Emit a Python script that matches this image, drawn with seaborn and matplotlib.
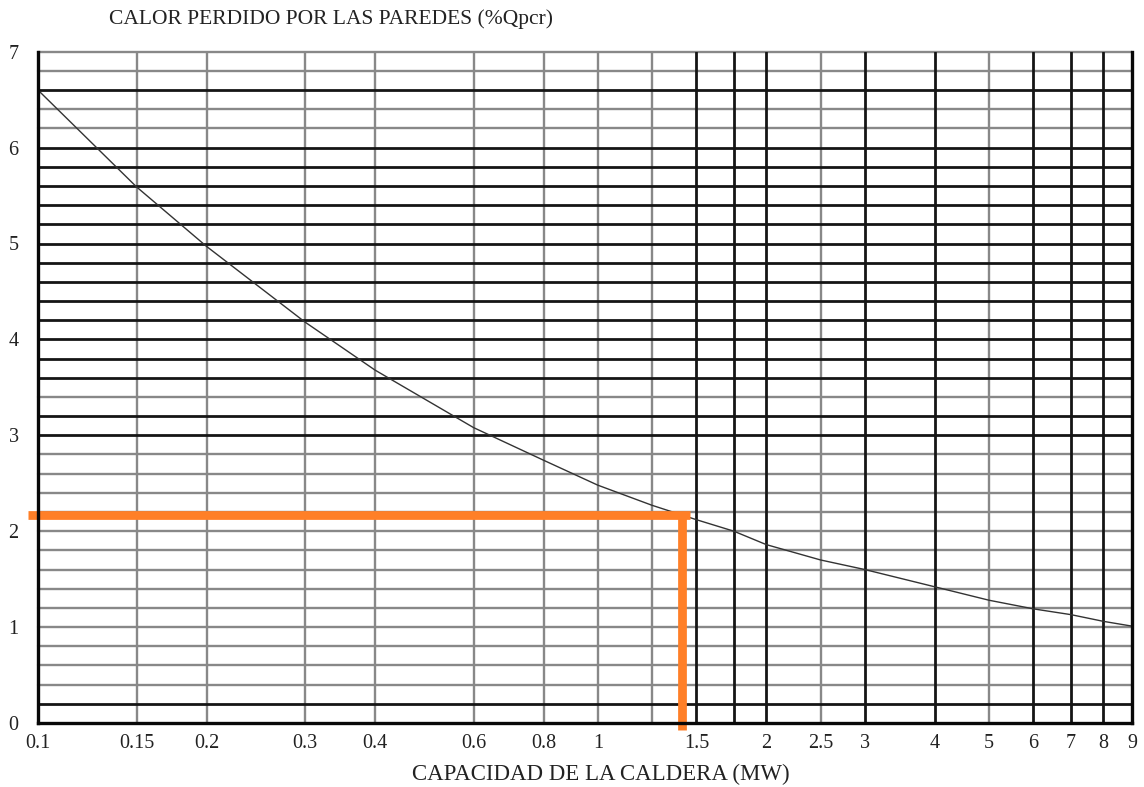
import matplotlib
matplotlib.use("Agg")
import matplotlib.pyplot as plt
import seaborn as sns
import pandas as pd

# ---- data ----
capacity = [0.1, 0.15, 0.2, 0.3, 0.4, 0.6, 0.8, 1.0, 1.25, 1.5, 1.75, 2.0,
            2.5, 3.0, 4.0, 5.0, 6.0, 7.0, 8.0, 9.0]
heat_loss = [6.6, 5.59, 4.97, 4.18, 3.68, 3.08, 2.74, 2.48, 2.27, 2.12, 2.0,
             1.86, 1.70, 1.60, 1.42, 1.28, 1.19, 1.13, 1.06, 1.01]

x_ticks = [0.1, 0.15, 0.2, 0.3, 0.4, 0.6, 0.8, 1, 1.5, 2, 2.5, 3, 4, 5, 6, 7, 8, 9]
x_tick_labels = ["0.1", "0.15", "0.2", "0.3", "0.4", "0.6", "0.8", "1", "1.5",
                 "2", "2.5", "3", "4", "5", "6", "7", "8", "9"]
y_ticks = [0, 1, 2, 3, 4, 5, 6, 7]

v_light = [0.15, 0.2, 0.3, 0.4, 0.6, 0.8, 1.0, 1.25, 2.5, 5.0]
v_dark = [1.5, 1.75, 2.0, 3.0, 4.0, 6.0, 7.0, 8.0]
h_dark = [0.2, 3.0, 3.2, 3.6, 3.8, 4.0, 4.2, 4.4, 4.6, 4.8, 5.0, 5.2, 5.4,
          5.6, 5.8, 6.0, 6.6]
h_light = [0.4, 0.6, 0.8, 1.0, 1.2, 1.4, 1.6, 1.8, 2.0, 2.2, 2.4, 2.6, 2.8,
           3.4, 6.2, 6.4, 6.8, 7.0]

# orange reading lines
read_x = [0.096, 1.461]   # horizontal segment x-range
read_y = 2.17
read_vx = 1.413           # vertical segment x
read_vy = [-0.07, 2.17]

df = pd.DataFrame({"capacity": capacity, "loss": heat_loss})

sns.set_theme(style="white")
plt.rcParams["font.family"] = ["Liberation Serif", "DejaVu Serif"]

fig = plt.figure(figsize=(11.44, 7.87), dpi=100)
ax = fig.add_axes([38 / 1144, 1 - 723 / 787, (1132 - 38) / 1144, (723 - 51.7) / 787])

for v in v_light:
    ax.axvline(v, color="#888888", lw=1.7, zorder=1)
for v in v_dark:
    ax.axvline(v, color="#151515", lw=2.0, zorder=1.2)
for h in h_light:
    ax.axhline(h, color="#888888", lw=1.7, zorder=1, clip_on=False)
for h in h_dark:
    ax.axhline(h, color="#151515", lw=2.0, zorder=1.2)

sns.lineplot(data=df, x="capacity", y="loss", ax=ax, color="#333333",
             lw=1.0, zorder=3)

ax.plot(read_x, [read_y, read_y], color="#FF7F27", lw=6.3,
        solid_capstyle="butt", clip_on=False, zorder=4)
ax.plot([read_vx, read_vx], read_vy, color="#FF7F27", lw=6.3,
        solid_capstyle="butt", clip_on=False, zorder=4)

ax.set_xscale("log")
ax.set_xlim(0.1, 9)
ax.set_ylim(0, 7)
ax.set_xticks(x_ticks)
ax.set_xticklabels(x_tick_labels)
ax.minorticks_off()
ax.set_yticks(y_ticks)
ax.set_yticklabels([str(t) for t in y_ticks])
ax.tick_params(axis="both", length=0, labelsize=14.5, colors="#222222")
ax.tick_params(axis="x", pad=8)
ax.tick_params(axis="y", pad=14)
ax.set_xlabel("")
ax.set_ylabel("")

for s in ["left", "bottom", "right"]:
    ax.spines[s].set_visible(True)
    ax.spines[s].set_color("#080808")
    ax.spines[s].set_linewidth(2.4)
    ax.spines[s].set_zorder(5)
ax.spines["top"].set_visible(False)
ax.set_facecolor("white")
fig.patch.set_facecolor("white")

fig.text(331 / 1144, 1 - 19 / 787, "CALOR PERDIDO POR LAS PAREDES (%Qpcr)",
         ha="center", va="center", fontsize=15.5, color="#222222")
fig.text(601 / 1144, 1 - 774 / 787, "CAPACIDAD DE LA CALDERA (MW)",
         ha="center", va="center", fontsize=16.5, color="#222222")

fig.savefig("out.png", dpi=100, facecolor="white")
